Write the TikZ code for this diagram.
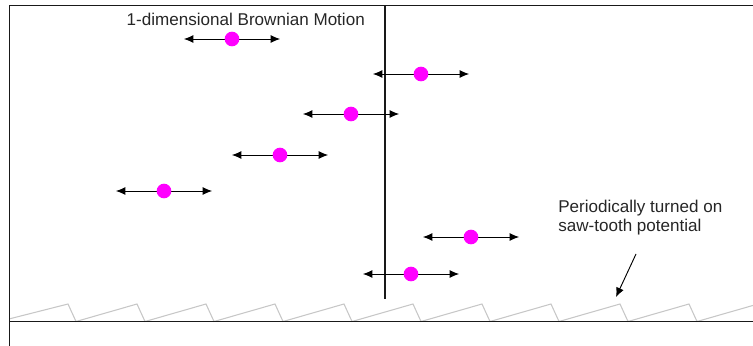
\documentclass[tikz,border=0pt]{standalone}
\usepackage{fontspec}
\setmainfont{Liberation Sans}
\usetikzlibrary{arrows.meta}

\definecolor{dotpink}{RGB}{255,0,255}
\tikzset{
	particle/.style={circle, fill=dotpink, inner sep=0pt, minimum size=11pt},
	frameline/.style={line width=1.4pt, black!90},
}

\begin{document}
\begin{tikzpicture}[x=0.75pt, y=-0.75pt, every node/.style={font=\fontsize{12.8}{13.8}\selectfont, text=black!85}, >={Latex[length=7pt, width=6pt]}]
	\useasboundingbox (0,0) rectangle (753,346);
	% saw-tooth potential
	\begin{scope}
		\clip (9.5,280) rectangle (753,330);
		\draw[black!22, line width=0.8pt] (-1,321.5) \foreach \k in {0,...,10} { -- ({68+69*\k},304) -- ({76+69*\k},321.5) };
	\end{scope}
	% frame and axes
	\draw[frameline] (753,5.5) -- (9.5,5.5) -- (9.5,346);
	\draw[frameline] (9.5,321.5) -- (753,321.5);
	\draw[line width=1.1pt, black!90] (385,5.5) -- (385,299);
	\node[anchor=base west] (title) at (122,26) {1-dimensional Brownian Motion};
	% particles with their two arrows
	\foreach \i/\x/\y in {1/232/39, 2/421/74, 3/351/114, 4/280/155, 5/164/191, 6/471/237, 7/411/274} {
		\coordinate (l\i) at (\x-48,\y);
		\coordinate (r\i) at (\x+48,\y);
		\draw[->, line width=0.7pt] (\x,\y) -- (l\i);
		\draw[->, line width=0.7pt] (\x,\y) -- (r\i);
		\node[particle] (p\i) at (\x,\y) {};
	}
	% note on the potential
	\node[anchor=north west, align=left, inner sep=0pt] (note) at (558,200) {Periodically turned on\\saw-tooth potential};
	\coordinate (notefrom) at (636,254);
	\coordinate (noteto) at (616,297);
	\draw[->, line width=0.7pt] (notefrom) -- (noteto);
\end{tikzpicture}
\end{document}
